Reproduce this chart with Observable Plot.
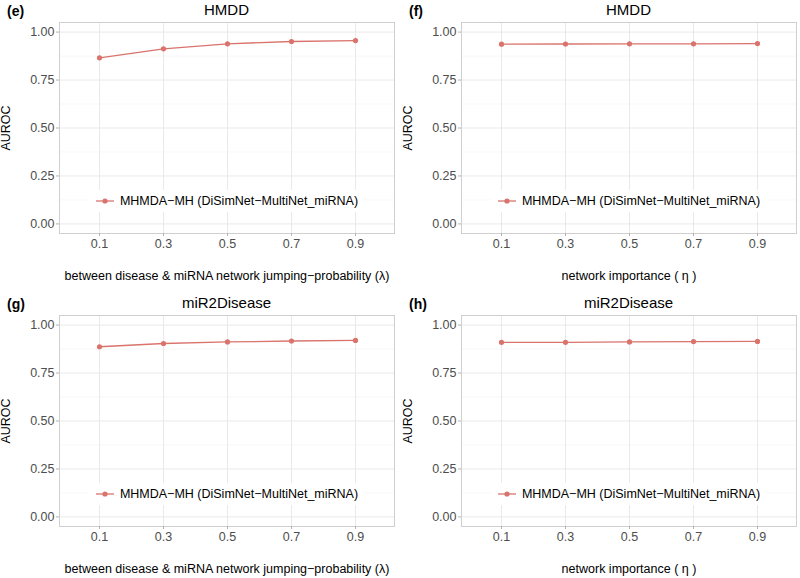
<!DOCTYPE html>
<html>
<head>
<meta charset="utf-8">
<script src="https://cdn.jsdelivr.net/npm/d3@7"></script>
<script src="https://cdn.jsdelivr.net/npm/@observablehq/plot@0.6"></script>
<style>
  html, body { margin: 0; padding: 0; background: #fff; width: 800px; height: 578px; overflow: hidden; }
  body { position: relative; font-family: "Liberation Sans", Arial, Helvetica, sans-serif; }
  .panel { position: absolute; width: 400px; height: 285px; }
  .tag { position: absolute; left: 7px; top: 3px; font-weight: bold; font-size: 14px; color: #000; }
  .title { position: absolute; left: 59px; width: 335px; top: 1px; text-align: center; font-size: 15px; color: #000; }
  .legend { position: absolute; left: 59px; width: 335px; top: 190px; display: flex; justify-content: center; pointer-events: none; }
  .legend .box { background: #fff; padding: 4px 6px; display: flex; align-items: center; font-size: 12.5px; color: #000; }
  .legend svg { margin-right: 5px; }
</style>
</head>
<body>
<script>
// ---- data ----
const paramLabels = ["0.1", "0.3", "0.5", "0.7", "0.9"];
const hmddLambda = [0.866, 0.913, 0.939, 0.951, 0.956];
const hmddEta = [0.937, 0.938, 0.939, 0.939, 0.940];
const mir2Lambda = [0.887, 0.904, 0.912, 0.917, 0.920];
const mir2Eta = [0.910, 0.910, 0.912, 0.914, 0.915];
const yTicks = [0, 0.25, 0.5, 0.75, 1];
const yMinor = [0.125, 0.375, 0.625, 0.875];
const seriesName = "MHMDA\u2212MH (DiSimNet\u2212MultiNet_miRNA)";
const lambdaTitle = "between disease & miRNA network jumping\u2212probability (\u03bb)";
const etaTitle = "network importance ( \u03b7 )";

const panels = [
  {tag: "(e)", title: "HMDD", values: hmddLambda, xTitle: lambdaTitle, left: 0, top: 0},
  {tag: "(f)", title: "HMDD", values: hmddEta, xTitle: etaTitle, left: 402, top: 0},
  {tag: "(g)", title: "miR2Disease", values: mir2Lambda, xTitle: lambdaTitle, left: 0, top: 293},
  {tag: "(h)", title: "miR2Disease", values: mir2Eta, xTitle: etaTitle, left: 402, top: 293}
];

const lineColor = "#da736c";
const axisGrey = "#4d4d4d";

for (const p of panels) {
  const data = paramLabels.map((x, i) => ({x, y: p.values[i]}));
  const div = document.createElement("div");
  div.className = "panel";
  div.style.left = p.left + "px";
  div.style.top = p.top + "px";

  const chart = Plot.plot({
    width: 400,
    height: 285,
    marginLeft: 59,
    marginRight: 6,
    marginTop: 22,
    marginBottom: 52,
    style: {fontFamily: "'Liberation Sans', Arial, sans-serif", fontSize: "12.5px", color: "#000", background: "transparent"},
    x: {type: "point", domain: paramLabels, padding: 0.6},
    y: {domain: [-0.05, 1.05]},
    marks: [
      Plot.gridY(yMinor, {stroke: "#f2f2f2", strokeOpacity: 1, strokeWidth: 0.6}),
      Plot.gridY(yTicks, {stroke: "#e6e6e6", strokeOpacity: 1, strokeWidth: 0.9}),
      Plot.gridX(paramLabels, {stroke: "#e6e6e6", strokeOpacity: 1, strokeWidth: 0.9}),
      Plot.frame({stroke: "#cfcfcf", strokeWidth: 1}),
      Plot.line(data, {x: "x", y: "y", stroke: lineColor, strokeWidth: 1.3}),
      Plot.dot(data, {x: "x", y: "y", r: 2.6, fill: lineColor, stroke: "none"}),
      Plot.axisX(paramLabels, {tickSize: 3, tickPadding: 3, stroke: "#b3b3b3", fill: axisGrey, fontSize: 12.5, label: null}),
      Plot.axisX([], {tickSize: 0, fill: "#000", fontSize: 12.5,
        label: p.xTitle, labelAnchor: "center", labelOffset: 46, labelArrow: "none"}),
      Plot.axisY(yTicks, {tickSize: 3, tickPadding: 2, stroke: "#b3b3b3", fill: axisGrey, fontSize: 12.5,
        tickFormat: d3.format(".2f"), label: null}),
      Plot.axisY([], {tickSize: 0, fill: "#000", fontSize: 12.5,
        label: "AUROC", labelAnchor: "center", labelOffset: 58, labelArrow: "none"})
    ]
  });
  div.appendChild(chart);

  const tag = document.createElement("div");
  tag.className = "tag"; tag.textContent = p.tag; div.appendChild(tag);
  const title = document.createElement("div");
  title.className = "title"; title.textContent = p.title; div.appendChild(title);

  const legend = document.createElement("div");
  legend.className = "legend";
  legend.innerHTML = `<div class="box"><svg width="20" height="10"><line x1="1" x2="19" y1="5" y2="5" stroke="${lineColor}" stroke-width="1.3"/><circle cx="10" cy="5" r="2.6" fill="${lineColor}"/></svg><span>${seriesName}</span></div>`;
  div.appendChild(legend);

  document.body.appendChild(div);
}
</script>
</body>
</html>
